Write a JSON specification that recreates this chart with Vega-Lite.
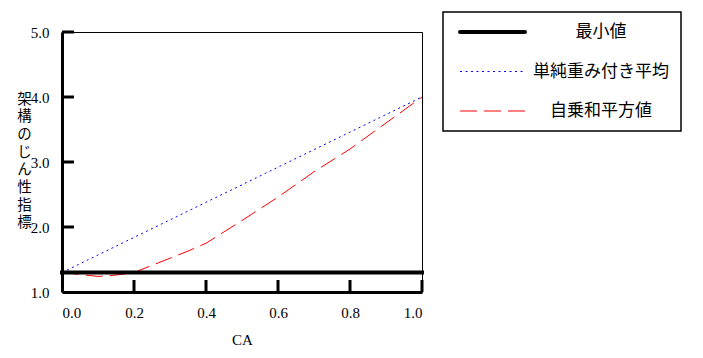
{
  "$schema": "https://vega.github.io/schema/vega-lite/v6.json",
  "width": 360,
  "height": 260,
  "autosize": "none",
  "padding": {"left": 62, "top": 32, "right": 281, "bottom": 66},
  "background": "white",
  "config": {
    "view": {"stroke": "black", "strokeWidth": 1},
    "axis": {
      "grid": false,
      "domainColor": "black",
      "domainWidth": 3,
      "labelColor": "black",
      "labelFont": "Liberation Serif",
      "labelFontSize": 15,
      "titleColor": "black",
      "titleFontWeight": "normal"
    }
  },
  "layer": [
    {
      "data": {
        "values": [
          {"ca": 0.0, "v": 1.3, "s": "単純重み付き平均"},
          {"ca": 1.0, "v": 4.0, "s": "単純重み付き平均"},
          {"ca": 0.0, "v": 1.3, "s": "自乗和平方値"},
          {"ca": 0.05, "v": 1.27, "s": "自乗和平方値"},
          {"ca": 0.1, "v": 1.24, "s": "自乗和平方値"},
          {"ca": 0.15, "v": 1.26, "s": "自乗和平方値"},
          {"ca": 0.2, "v": 1.3, "s": "自乗和平方値"},
          {"ca": 0.25, "v": 1.41, "s": "自乗和平方値"},
          {"ca": 0.3, "v": 1.52, "s": "自乗和平方値"},
          {"ca": 0.35, "v": 1.63, "s": "自乗和平方値"},
          {"ca": 0.4, "v": 1.75, "s": "自乗和平方値"},
          {"ca": 0.5, "v": 2.1, "s": "自乗和平方値"},
          {"ca": 0.6, "v": 2.46, "s": "自乗和平方値"},
          {"ca": 0.7, "v": 2.85, "s": "自乗和平方値"},
          {"ca": 0.8, "v": 3.2, "s": "自乗和平方値"},
          {"ca": 0.9, "v": 3.6, "s": "自乗和平方値"},
          {"ca": 1.0, "v": 4.0, "s": "自乗和平方値"},
          {"ca": 0.0, "v": 1.3, "s": "最小値"},
          {"ca": 1.0, "v": 1.3, "s": "最小値"}
        ]
      },
      "encoding": {
        "x": {
          "field": "ca",
          "type": "quantitative",
          "scale": {"domain": [0, 1], "nice": false},
          "axis": {
            "orient": "bottom",
            "values": [0, 0.2, 0.4, 0.6, 0.8, 1.0],
            "format": ".1f",
            "ticks": false,
            "labelPadding": 13,
            "title": "CA",
            "titleFont": "Liberation Serif",
            "titleFontSize": 15,
            "titlePadding": 12
          }
        },
        "y": {
          "field": "v",
          "type": "quantitative",
          "scale": {"domain": [1, 5], "nice": false, "zero": false},
          "axis": {
            "orient": "left",
            "values": [1, 2, 3, 4, 5],
            "ticks": false,
            "labelPadding": 13,
            "title": ["架", "構", "の", "じ", "ん", "性", "指", "標"],
            "titleFont": "Noto Sans CJK JP",
            "titleFontSize": 14.5,
            "titleAngle": 0,
            "titleAlign": "center",
            "titleBaseline": "top",
            "titleLineHeight": 17.7,
            "titleX": -38,
            "titleY": 60
          }
        },
        "color": {
          "field": "s",
          "type": "nominal",
          "scale": {
            "domain": ["最小値", "単純重み付き平均", "自乗和平方値"],
            "range": ["black", "blue", "red"]
          },
          "legend": {
            "title": null,
            "orient": "none",
            "legendX": 381,
            "legendY": -20,
            "strokeColor": "black",
            "fillColor": "white",
            "padding": 11.5,
            "rowPadding": 21.5,
            "symbolType": "M-6.5,0H6.5",
            "symbolSize": 100,
            "symbolOffset": 29.5,
            "labelFont": "Noto Sans CJK JP",
            "labelFontSize": 17,
            "labelColor": "black",
            "labelAlign": "center",
            "labelOffset": 100,
            "labelLimit": 300,
            "encode": {
              "legend": {"update": {"strokeWidth": {"value": 1.5}}},
              "symbols": {
                "update": {
                  "strokeWidth": {"signal": "datum.value === '最小値' ? 4 : 1"},
                  "strokeCap": {"signal": "datum.value === '最小値' ? 'round' : 'butt'"},
                  "fill": {"value": "transparent"}
                }
              }
            }
          }
        },
        "strokeDash": {
          "field": "s",
          "type": "nominal",
          "scale": {
            "domain": ["最小値", "単純重み付き平均", "自乗和平方値"],
            "range": [[1, 0], [2, 3.5], [17, 7]]
          },
          "legend": null
        }
      },
      "layer": [
        {
          "transform": [{"filter": "datum.s !== '最小値'"}],
          "mark": {"type": "line", "strokeWidth": 1, "clip": false}
        },
        {
          "transform": [{"filter": "datum.s === '最小値'"}],
          "mark": {"type": "line", "strokeWidth": 4, "strokeCap": "square", "clip": false}
        }
      ]
    },
    {
      "data": {"values": [{"t": 0.2}, {"t": 0.4}, {"t": 0.6}, {"t": 0.8}, {"t": 1.0}]},
      "mark": {"type": "tick", "orient": "vertical", "size": 12, "thickness": 3, "yOffset": -6, "color": "black", "opacity": 1, "clip": false},
      "encoding": {
        "x": {"field": "t", "type": "quantitative"},
        "y": {"datum": 1, "type": "quantitative"}
      }
    },
    {
      "data": {"values": [{"t": 2}, {"t": 3}, {"t": 4}, {"t": 5}]},
      "mark": {"type": "tick", "orient": "horizontal", "size": 12, "thickness": 3, "xOffset": 6, "color": "black", "opacity": 1, "clip": false},
      "encoding": {
        "y": {"field": "t", "type": "quantitative"},
        "x": {"datum": 0, "type": "quantitative"}
      }
    }
  ]
}
